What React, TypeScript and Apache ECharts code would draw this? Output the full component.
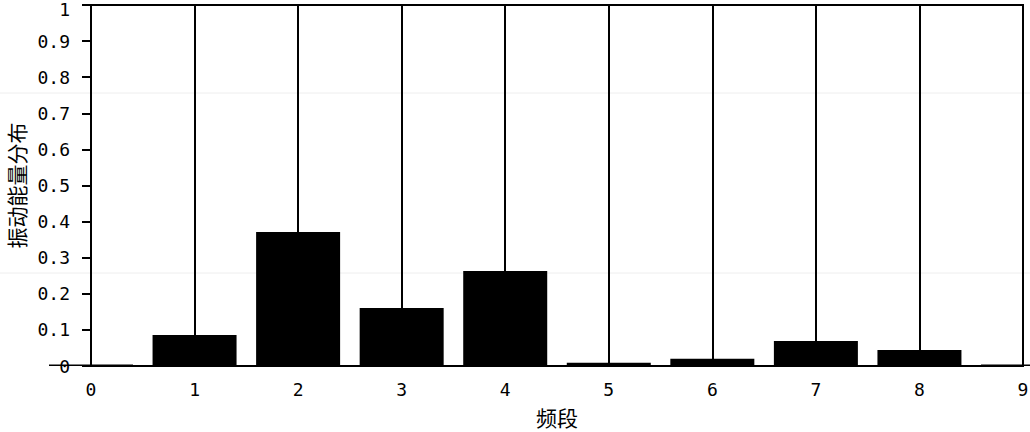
import React, { useEffect, useRef } from "react";
import * as echarts from "echarts";

const bandPositions = [0, 1, 2, 3, 4, 5, 6, 7, 8, 9];
const energyValues = [0.004, 0.086, 0.371, 0.161, 0.263, 0.009, 0.02, 0.069, 0.044, 0.004];
const xAxisTitle = "频段";
const yAxisTitle = "振动能量分布";

export default function App() {
  const ref = useRef<HTMLDivElement>(null);
  useEffect(() => {
    if (!ref.current) return;
    const chart = echarts.init(ref.current, undefined, { renderer: "svg" });
    const font = "'DejaVu Sans Mono', monospace";
    chart.setOption({
      animation: false,
      backgroundColor: "#fff",
      grid: {
        left: 91,
        right: 7,
        top: 5,
        bottom: 66,
        outerBoundsMode: "none",
        containLabel: false,
        show: true,
        borderColor: "#000",
        borderWidth: 2,
        backgroundColor: "transparent",
      },
      xAxis: {
        type: "value",
        min: 0,
        max: 9,
        interval: 1,
        axisLine: { show: false },
        axisTick: { show: false },
        splitLine: { show: true, lineStyle: { color: "#000", width: 2 } },
        axisLabel: { color: "#000", fontSize: 18, fontFamily: font, margin: 14 },
        name: xAxisTitle,
        nameLocation: "middle",
        nameGap: 40,
        nameTextStyle: { color: "#000", fontSize: 21, fontFamily: "'Noto Sans CJK SC', sans-serif" },
      },
      yAxis: {
        type: "value",
        min: 0,
        max: 1,
        interval: 0.1,
        offset: 4,
        axisLine: { show: false },
        axisTick: { show: true, length: 9, lineStyle: { color: "#000", width: 2 } },
        splitLine: { show: false },
        axisLabel: {
          color: "#000",
          fontSize: 18,
          fontFamily: font,
          margin: 17,
          formatter: (v: number) => (v === 1 ? "{t|1}" : String(Math.round(v * 10) / 10)),
          rich: { t: { fontSize: 18, fontFamily: font, color: "#000", padding: [8, 0, 0, 0] } },
        },
        name: yAxisTitle,
        nameLocation: "middle",
        nameGap: 60,
        nameRotate: 90,
        nameTextStyle: { color: "#000", fontSize: 21, fontFamily: "'Noto Sans CJK SC', sans-serif" },
      },
      graphic: [
        { type: "line", shape: { x1: 0, y1: 93, x2: 1030, y2: 93 }, style: { stroke: "#eeeeee", lineWidth: 1 }, z: 0 },
        { type: "line", shape: { x1: 0, y1: 273, x2: 1030, y2: 273 }, style: { stroke: "#eeeeee", lineWidth: 1 }, z: 0 },
      ],
      series: [
        {
          type: "bar",
          data: bandPositions.map((x, i) => [x, energyValues[i]]),
          barWidth: 84,
          itemStyle: { color: "#000" },
          clip: true,
        },
      ],
    });
    return () => chart.dispose();
  }, []);
  return (
    <div
      ref={ref}
      style={{ position: "fixed", left: 0, top: 0, width: 1030, height: 432 }}
    />
  );
}
